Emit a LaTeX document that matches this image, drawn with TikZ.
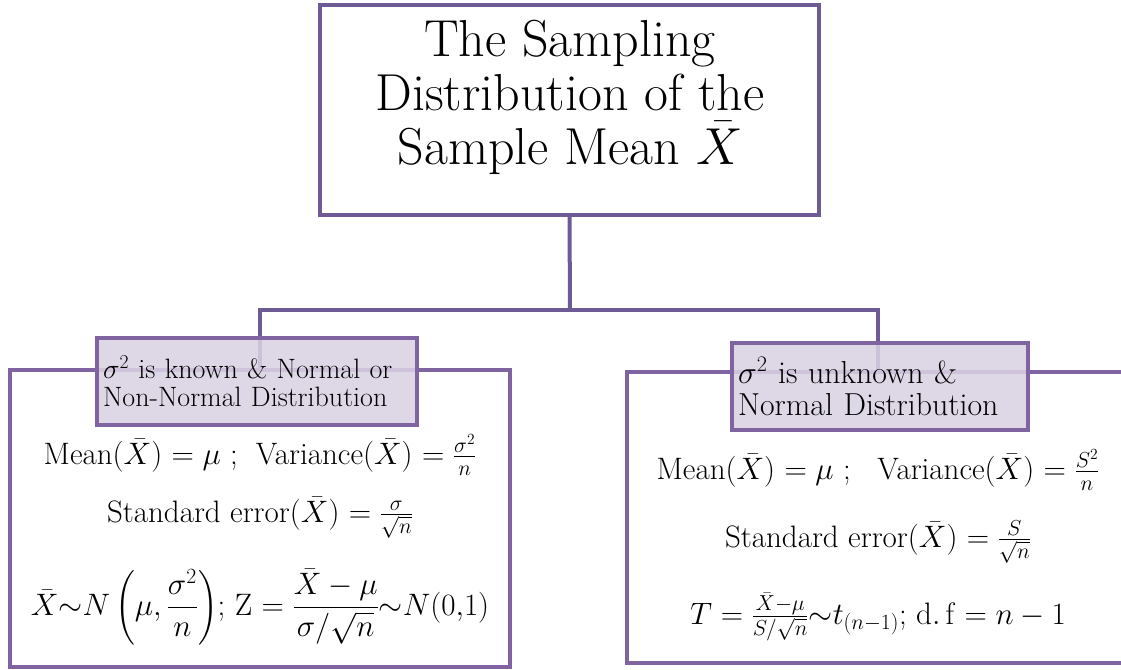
\RequirePackage{fix-cm}
\documentclass[tikz,border=0pt]{standalone}
\usepackage{amsmath}
\usetikzlibrary{positioning,backgrounds}
\definecolor{boxpurple}{HTML}{8064A2}
\definecolor{linepurple}{HTML}{6E5A94}
\definecolor{labelfill}{HTML}{D9D1E3}
\tikzset{
  titlebox/.style={draw=linepurple, line width=4pt, rectangle, minimum width=499pt, minimum height=210pt, inner sep=0pt},
  titletext/.style={align=center, inner sep=0pt, font=\fontsize{52}{54}\selectfont},
  formbox/.style={draw=boxpurple, line width=4pt, rectangle, inner sep=0pt},
  condlabel/.style={draw=boxpurple, line width=4pt, rectangle, fill=labelfill, fill opacity=0.88, text opacity=1, align=left, inner xsep=6pt, inner ysep=0pt, minimum height=87pt},
  formula/.style={inner sep=0pt, font=\fontsize{31}{34}\selectfont},
  line/.style={draw=linepurple, line width=4pt}
}

\begin{document}
\begin{tikzpicture}[x=1pt, y=-1pt]
    \useasboundingbox (0,0) rectangle (1121,669);

    % title
    \node[titlebox] (title) at (569.5,110) {};
    \node[titletext] (titletext) at (570,97) {The Sampling\\Distribution of the\\Sample Mean $\bar{X}$};

    % the two cases
    \node[formbox, minimum width=500pt, minimum height=297pt] (knownbox) at (260,518.5) {};
    \node[formbox, minimum width=502pt, minimum height=291pt] (unknownbox) at (878,517.5) {};

    \node[condlabel, text width=308pt, font=\fontsize{28}{28}\selectfont] (knownlabel) at (257,381.5) {$\sigma^2$ is known \& Normal or\\Non-Normal Distribution};
    \node[condlabel, text width=284pt, font=\fontsize{31.8}{32}\selectfont] (unknownlabel) at (880,386.5) {$\sigma^2$ is unknown \&\\Normal Distribution};

    % sigma known
    \node[formula] (knownmean) at (260,455) {Mean($\bar{X}$) $=\mu$ ;\; Variance($\bar{X}$) $=\frac{\sigma^2}{n}$};
    \node[formula] (knownse) at (260,518) {Standard error($\bar{X}$) $=\frac{\sigma}{\sqrt{n}}$};
    \node[formula] (knownz) at (260,607) {$\bar{X}{\sim}N\left(\mu,\dfrac{\sigma^2}{n}\right)$; Z $=\dfrac{\bar{X}-\mu}{\sigma/\sqrt{n}}{\sim}N(0{,}1)$};

    % sigma unknown
    \node[formula] (unknownmean) at (878,470) {Mean($\bar{X}$) $=\mu$ ;\;\; Variance($\bar{X}$) $=\frac{S^2}{n}$};
    \node[formula] (unknownse) at (878,542) {Standard error($\bar{X}$) $=\frac{S}{\sqrt{n}}$};
    \node[formula] (unknownt) at (878,617) {$T=\frac{\bar{X}-\mu}{S/\sqrt{n}}{\sim}t_{(n-1)}$; $\mathrm{d.\,f}=n-1$};

    % connectors
    \coordinate (split) at (570,310);
    \begin{pgfonlayer}{background}
        \draw[line] (title.south) -- (split);
        \draw[line] (split) -| (knownbox.north);
        \draw[line] (split) -| (unknownbox.north);
    \end{pgfonlayer}
\end{tikzpicture}
\end{document}
